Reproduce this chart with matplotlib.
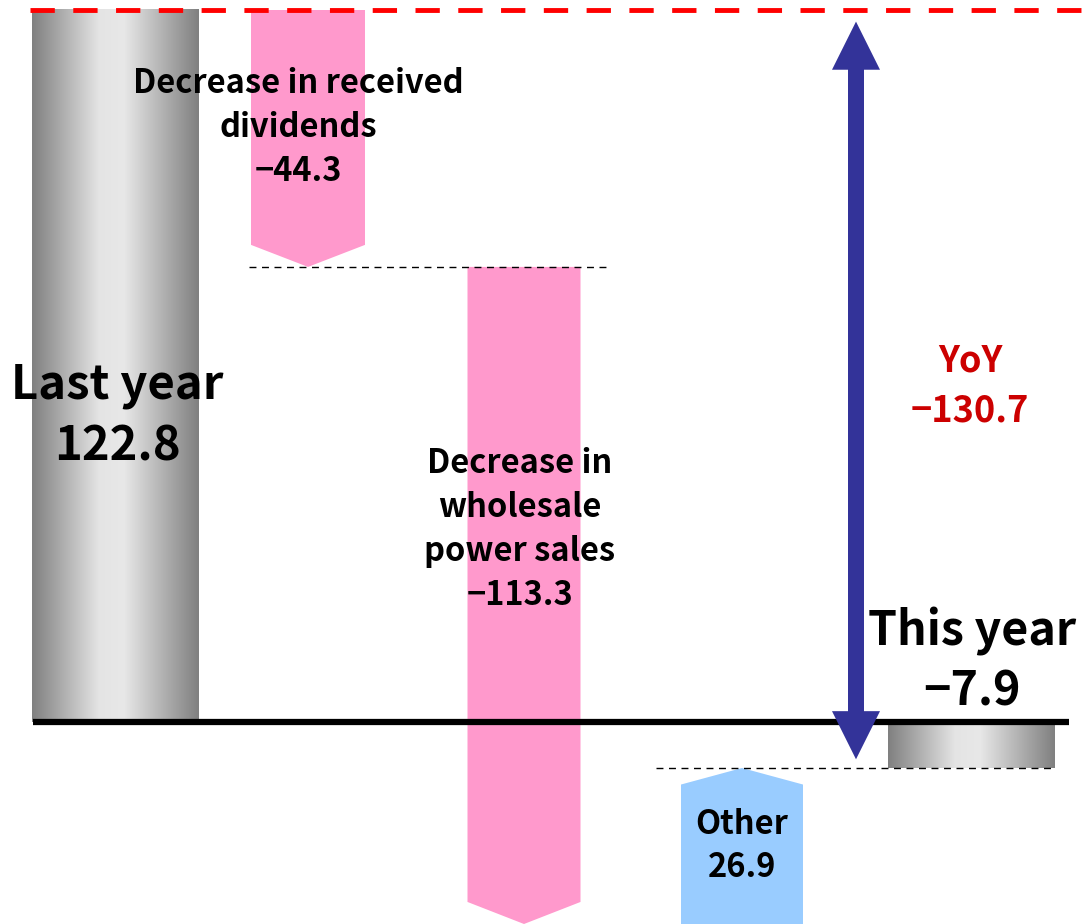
import numpy as np
import matplotlib
matplotlib.use("Agg")
import matplotlib.pyplot as plt
from matplotlib.colors import LinearSegmentedColormap
from matplotlib.patches import Polygon

plt.rcParams["font.family"] = ["Noto Sans CJK JP", "DejaVu Sans"]
plt.rcParams["font.weight"] = "bold"

# values
last_year = 122.8
step_labels = ["Decrease in received\ndividends", "Decrease in\nwholesale\npower sales", "Other"]
step_values = [-44.3, -113.3, 26.9]
this_year = -7.9
yoy = -130.7

# layout: x positions in canvas-like units (0..1083)
x_centers = [115, 308, 524, 742, 971]
widths = [167, 114, 113, 122, 167]

PINK = "#ff99cc"
LIGHT_BLUE = "#99ccff"
NAVY = "#333399"
DARK_RED = "#cc0000"

gray_cmap = LinearSegmentedColormap.from_list(
    "cyl", [(0.0, "#808080"), (0.4, "#e4e4e4"), (0.55, "#e8e8e8"), (1.0, "#808080")]
)


def fmt(v):
    return f"{v:.1f}".replace("-", "\u2212")


def gradient_bar(ax, xc, w, y0, y1):
    grad = np.linspace(0, 1, 256).reshape(1, -1)
    ax.imshow(grad, cmap=gray_cmap, aspect="auto", interpolation="bilinear",
              extent=[xc - w / 2, xc + w / 2, min(y0, y1), max(y0, y1)], zorder=2)


fig = plt.figure(figsize=(10.83, 9.24), dpi=100)
ax = fig.add_axes([0, 0, 1, 1])
ax.axis("off")

head = 3.8  # arrow head height in data units

# running levels
levels = [last_year]
for v in step_values:
    levels.append(levels[-1] + v)

# last year bar
gradient_bar(ax, x_centers[0], widths[0], 0, last_year)

# step arrows
for i, v in enumerate(step_values):
    xc = x_centers[i + 1]
    w = widths[i + 1]
    start, end = levels[i], levels[i + 1]
    x0, x1 = xc - w / 2, xc + w / 2
    if v < 0:
        pts = [(x0, start), (x1, start), (x1, end + head), (xc, end), (x0, end + head)]
        color = PINK
    else:
        pts = [(x0, start), (x1, start), (x1, end - head * 0.75), (xc, end), (x0, end - head * 0.75)]
        color = LIGHT_BLUE
    ax.add_patch(Polygon(pts, closed=True, facecolor=color, edgecolor="none", zorder=2))

# this year bar
gradient_bar(ax, x_centers[4], widths[4], 0, this_year)

# connectors
ax.plot([249, 608], [levels[1], levels[1]], color="black", lw=1, ls=(0, (5, 4)), zorder=3)
ax.plot([656, 1055], [this_year, this_year], color="black", lw=1, ls=(0, (5, 4)), zorder=3)

# red reference line at last year's level
ax.plot([30, 1083], [last_year, last_year], color="red", lw=3.5, ls=(0, (5, 3.8)), zorder=4)

# baseline
ax.plot([33, 1069], [0, 0], color="black", lw=4.5, zorder=5, solid_capstyle="butt")

# YoY double arrow
ax_x = 856
shaft = 8
hw = 24
hl = 8.3
top = last_year - 2
bot = this_year + 1.5
arrow = [(ax_x, top), (ax_x + hw, top - hl), (ax_x + shaft, top - hl),
         (ax_x + shaft, bot + hl), (ax_x + hw, bot + hl), (ax_x, bot),
         (ax_x - hw, bot + hl), (ax_x - shaft, bot + hl), (ax_x - shaft, top - hl),
         (ax_x - hw, top - hl)]
ax.add_patch(Polygon(arrow, closed=True, facecolor=NAVY, edgecolor="none", zorder=6))

# labels
ax.text(x_centers[0] + 2, 52.8, f"Last year\n{fmt(last_year)}", ha="center", va="center",
        fontsize=34, linespacing=1.35, zorder=7)
ax.text(298, 102.5, f"{step_labels[0]}\n{fmt(step_values[0])}", ha="center", va="center",
        fontsize=23.5, linespacing=1.42, zorder=7)
ax.text(520, 33.2, f"{step_labels[1]}\n{fmt(step_values[1])}", ha="center", va="center",
        fontsize=23.5, linespacing=1.42, zorder=7)
ax.text(x_centers[3], (levels[2] + levels[3]) / 2, f"{step_labels[2]}\n{fmt(step_values[2])}",
        ha="center", va="center", fontsize=23.5, linespacing=1.42, zorder=7)
ax.text(970, 58.0, f"YoY\n{fmt(yoy)}", ha="center", va="center", color=DARK_RED,
        fontsize=26, linespacing=1.45, zorder=7)
ax.text(972, 1.2, f"This year\n{fmt(this_year)}", ha="center", va="bottom",
        fontsize=33.5, linespacing=1.3, zorder=7)

ax.set_xlim(0, 1083)
ax.set_ylim(levels[2], last_year + 10 / 5.8)

fig.savefig("out.png", dpi=100)
